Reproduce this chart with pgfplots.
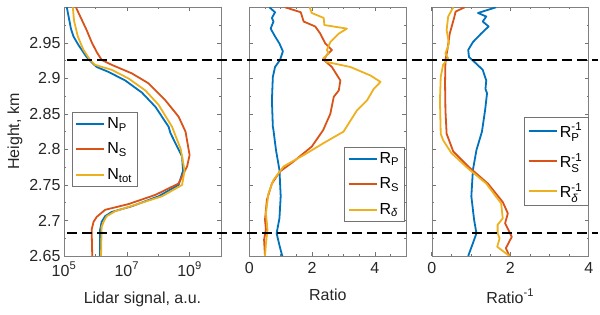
\documentclass[border=0pt]{standalone}
\usepackage{fontspec}
\setmainfont{Liberation Sans}
\usepackage{pgfplots}
\pgfplotsset{compat=1.18}
\definecolor{mB}{rgb}{0,0.447,0.741}
\definecolor{mO}{rgb}{0.85,0.325,0.098}
\definecolor{mY}{rgb}{0.929,0.694,0.125}
\newcommand{\fs}{\fontsize{16}{19}\selectfont}
\newcommand{\sm}{\fontsize{11.5}{13}\selectfont}
\newcommand{\Rsp}[1]{$\hbox{R}^{\hbox{\sm -1}}_{\hbox{\sm #1}}$}
\pgfplotsset{
  mstyle/.style={
    scale only axis, width=157pt, height=248.7pt,
    anchor=south west,
    ymin=2.65, ymax=3.0,
    ytick={2.65,2.7,2.75,2.8,2.85,2.9,2.95},
    minor ytick={2.675,2.725,2.775,2.825,2.875,2.925,2.975},
    axis line style={black!50},
    tick style={black!55, line width=0.5pt},
    major tick length=4pt, minor tick length=2pt,
    tick align=inside,
    tick label style={font=\fs, text=black!85},
    xticklabel style={yshift=-2.5pt},
    label style={font=\fs, text=black!85},
    xlabel style={yshift=-9pt},
    /pgf/number format/assume math mode=true,
    yticklabel style={/pgf/number format/fixed, /pgf/number format/precision=2},
    legend cell align=left,
    legend image code/.code={\draw[##1, line width=2pt] (0pt,0pt) -- (28pt,0pt);},
    every axis plot/.append style={line width=1.8pt, line join=round},
    clip=true,
  }
}
\begin{document}
\begin{tikzpicture}
\useasboundingbox (0pt,0pt) rectangle (600pt,315pt);
% Panel 1
\begin{axis}[mstyle, at={(64pt,59pt)},
  xmode=log, xmin=1e5, xmax=1e10,
  xtick={1e5,1e7,1e9}, minor xtick={1e6,1e8,1e10},
  xticklabels={10\textsuperscript{5},10\textsuperscript{7},10\textsuperscript{9}},
  xlabel={Lidar signal, a.u.},
  ylabel={Height, km},
  legend style={at={(0.049,0.58)}, anchor=north west, draw=black!55, fill=white,
    font=\fs, row sep=9pt, inner sep=3.5pt},
]
\addplot[mB] coordinates {(1.23e5,3.000) (1.66e5,2.970) (2.00e5,2.959) (2.88e5,2.947) (5.25e5,2.930) (8.71e5,2.920) (1.10e6,2.916) (2.63e6,2.909) (8.91e6,2.897) (3.02e7,2.880) (8.13e7,2.860) (2.14e8,2.832) (2.45e8,2.823) (5.75e8,2.790) (6.17e8,2.770) (4.47e8,2.750) (1.02e8,2.734) (1.45e7,2.720) (3.31e6,2.712) (2.04e6,2.706) (1.58e6,2.698) (1.41e6,2.687) (1.41e6,2.650)};
\addlegendentry{N\textsubscript{P}}
\addplot[mO] coordinates {(2.40e5,3.000) (3.72e5,2.982) (5.25e5,2.968) (7.59e5,2.951) (1.10e6,2.937) (1.58e6,2.926) (3.31e6,2.919) (1.45e7,2.907) (4.90e7,2.893) (1.70e8,2.869) (4.47e8,2.846) (7.41e8,2.825) (1.0e9,2.792) (8.32e8,2.776) (4.47e8,2.752) (8.13e7,2.736) (1.12e7,2.723) (2.04e6,2.715) (1.10e6,2.705) (8.71e5,2.698) (7.59e5,2.687) (7.94e5,2.650)};
\addlegendentry{N\textsubscript{S}}
\addplot[mY] coordinates {(1.91e5,3.000) (2.09e5,2.981) (2.75e5,2.959) (4.17e5,2.940) (6.76e5,2.926) (9.77e5,2.919) (3.31e6,2.912) (1.12e7,2.900) (3.89e7,2.883) (1.02e8,2.863) (2.75e8,2.832) (5.25e8,2.800) (6.92e8,2.770) (5.75e8,2.750) (1.32e8,2.734) (1.86e7,2.722) (4.27e6,2.713) (2.29e6,2.706) (1.82e6,2.698) (1.58e6,2.691) (1.51e6,2.650)};
\addlegendentry{N\textsubscript{tot}}
\coordinate (dA) at (axis cs:1e5,2.926);
\coordinate (dB) at (axis cs:1e5,2.682);
\end{axis}
% Panel 2
\begin{axis}[mstyle, at={(249.3pt,59pt)},
  xmin=0, xmax=5, xtick={0,2,4}, minor xtick={0.5,1,1.5,2.5,3,3.5,4.5,5},
  yticklabels={},
  xlabel={Ratio},
  legend style={at={(0.99,0.44)}, anchor=north east, draw=black!55, fill=white,
    font=\fs, row sep=9pt, inner sep=3.5pt},
]
\addplot[mB] coordinates {(0.64,3.0) (0.82,2.993) (0.72,2.985) (0.77,2.980) (0.68,2.970) (0.82,2.959) (0.96,2.949) (1.07,2.938) (0.98,2.926) (0.82,2.916) (0.75,2.902) (0.72,2.869) (0.75,2.832) (0.77,2.827) (0.85,2.799) (0.96,2.771) (1.0,2.734) (0.96,2.703) (0.87,2.682) (0.96,2.665) (1.05,2.65)};
\addlegendentry{R\textsubscript{P}}
\addplot[mO] coordinates {(1.14,3.0) (1.64,2.993) (1.73,2.980) (2.10,2.973) (2.26,2.963) (2.42,2.949) (2.63,2.940) (2.47,2.933) (2.37,2.926) (2.63,2.916) (2.90,2.897) (2.85,2.883) (2.69,2.874) (2.58,2.850) (2.35,2.827) (1.99,2.804) (1.41,2.783) (0.98,2.769) (0.72,2.752) (0.56,2.729) (0.50,2.701) (0.53,2.687) (0.47,2.673) (0.50,2.65)};
\addlegendentry{R\textsubscript{S}}
\addplot[mY] coordinates {(1.92,3.0) (1.99,2.992) (2.37,2.985) (2.39,2.975) (3.11,2.970) (2.85,2.963) (2.58,2.951) (2.47,2.940) (2.53,2.935) (2.35,2.928) (2.47,2.923) (3.22,2.916) (3.86,2.904) (4.18,2.895) (3.96,2.885) (3.75,2.869) (3.43,2.855) (3.0,2.825) (2.37,2.809) (1.73,2.792) (1.09,2.776) (0.77,2.757) (0.61,2.738) (0.53,2.710) (0.58,2.687) (0.53,2.668) (0.50,2.65)};
\addlegendentry{R\textsubscript{\textit{δ}}}
\end{axis}
% Panel 3
\begin{axis}[mstyle, at={(431.7pt,59pt)},
  xmin=0, xmax=4, xtick={0,2,4}, minor xtick={0.5,1,1.5,2.5,3,3.5},
  yticklabels={},
  xlabel={Ratio\textsuperscript{-1}},
  legend style={at={(0.995,0.558)}, anchor=north east, draw=black!55, fill=white,
    font=\fs, row sep=10pt, inner sep=3.5pt},
]
\addplot[mB] coordinates {(1.64,3.0) (1.18,2.992) (1.39,2.987) (1.30,2.980) (1.45,2.973) (1.26,2.963) (1.05,2.951) (0.93,2.940) (0.95,2.930) (1.09,2.923) (1.30,2.912) (1.39,2.897) (1.37,2.885) (1.41,2.879) (1.36,2.855) (1.28,2.825) (1.14,2.799) (1.05,2.771) (1.01,2.734) (1.08,2.701) (1.14,2.682) (1.05,2.668) (0.93,2.65)};
\addlegendentry{\Rsp{P}}
\addplot[mO] coordinates {(0.84,3.0) (0.61,2.994) (0.57,2.985) (0.46,2.963) (0.40,2.940) (0.35,2.926) (0.34,2.893) (0.35,2.855) (0.38,2.822) (0.55,2.797) (0.93,2.776) (1.43,2.752) (1.81,2.726) (1.94,2.710) (1.87,2.696) (2.04,2.677) (1.89,2.661) (1.98,2.65)};
\addlegendentry{\Rsp{S}}
\addplot[mY] coordinates {(0.55,3.0) (0.42,2.987) (0.38,2.968) (0.44,2.949) (0.35,2.935) (0.42,2.928) (0.29,2.919) (0.23,2.902) (0.21,2.869) (0.23,2.822) (0.29,2.813) (0.50,2.795) (0.93,2.773) (1.39,2.752) (1.77,2.724) (1.81,2.703) (1.68,2.694) (1.68,2.682) (1.73,2.675) (1.67,2.663) (1.98,2.65)};
\addlegendentry{\Rsp{\itshape δ}}
\end{axis}
\draw[black, line width=1.8pt, dash pattern=on 10pt off 5pt] ([xshift=3pt]dA) -- ([xshift=534pt]dA);
\draw[black, line width=1.8pt, dash pattern=on 10pt off 5pt] ([xshift=3pt]dB) -- ([xshift=534pt]dB);
\end{tikzpicture}
\end{document}
